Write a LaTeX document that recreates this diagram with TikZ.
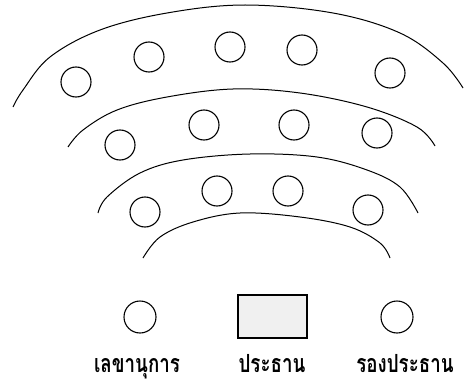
\documentclass[tikz,border=0pt]{standalone}
\usepackage{fontspec}
\newfontfamily\thaifont[Script=Thai,FakeStretch=0.75]{Loma}
\begin{document}
\begin{tikzpicture}[x=1pt,y=-1pt,
  seat/.style={circle,draw,line width=1.1pt,minimum size=30pt,inner sep=0pt},
  row/.style={line width=1pt},
  lbl/.style={font=\thaifont\bfseries\fontsize{25}{27}\selectfont,inner sep=0pt,anchor=base}]
\useasboundingbox (0,0) rectangle (465,385);
% arcs
\draw[row] plot[smooth,tension=0.6] coordinates {(13,107) (23,90) (50,57) (100,30) (167,13) (245,5) (333,13) (400,33) (443,63) (463,88)};
\draw[row] plot[smooth,tension=0.6] coordinates {(68,147) (83,130) (117,110) (167,97) (233,89) (300,93) (367,107) (417,127) (435,146)};
\draw[row] plot[smooth,tension=0.6] coordinates {(98,213) (107,197) (140,173) (183,160) (250,154) (317,157) (367,170) (400,187) (418,213)};
\draw[row] plot[smooth,tension=0.6] coordinates {(143,258) (160,237) (193,222) (240,213) (300,217) (350,227) (380,243) (390,258)};
% row 1
\node[seat] (a1) at (76,82) {};
\node[seat] (a2) at (149,57) {};
\node[seat] (a3) at (230,47) {};
\node[seat] (a4) at (302,50) {};
\node[seat] (a5) at (390,73) {};
% row 2
\node[seat] (b1) at (120,145) {};
\node[seat] (b2) at (204,125) {};
\node[seat] (b3) at (294,125) {};
\node[seat] (b4) at (377,133) {};
% row 3
\node[seat] (c1) at (145,212) {};
\node[seat] (c2) at (217,191) {};
\node[seat] (c3) at (288,191) {};
\node[seat] (c4) at (368,210) {};
% front
\node[seat,minimum size=32pt] (sec) at (140,317) {};
\node[draw,line width=1.4pt,fill=gray!12,minimum width=69pt,minimum height=43pt,inner sep=0pt] (chair) at (272.5,316.5) {};
\node[seat,minimum size=32pt] (vice) at (397,317) {};
% labels
\node[lbl] (lsec) at (137,372) {เลขานุการ};
\node[lbl] (lchair) at (272,372) {ประธาน};
\node[lbl] (lvice) at (405,372) {รองประธาน};
\end{tikzpicture}
\end{document}
